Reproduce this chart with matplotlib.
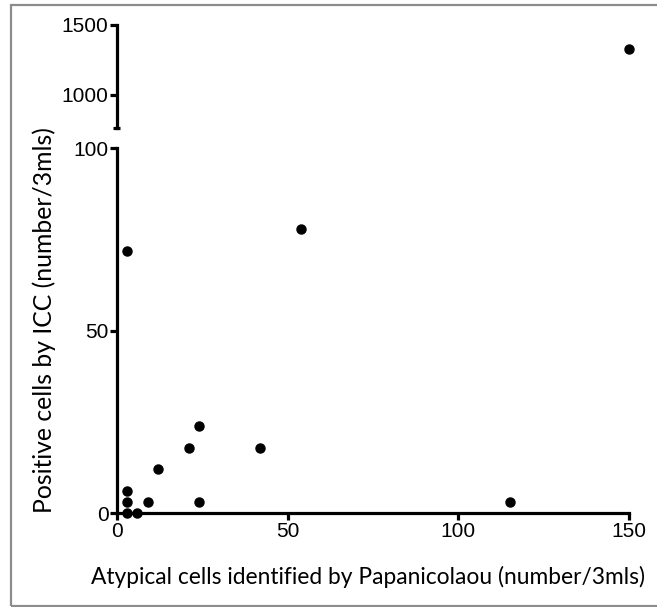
import matplotlib
matplotlib.use("Agg")
import matplotlib.pyplot as plt
from matplotlib.patches import Rectangle
import numpy as np

# Data
papanicolaou = [3, 3, 3, 3, 6, 9, 12, 21, 24, 24, 42, 54, 115, 150]
icc_positive = [0, 3, 6, 72, 0, 3, 12, 18, 24, 3, 18, 78, 3, 1326]
x_ticks = [0, 50, 100, 150]
y_ticks_low = [0, 50, 100]
y_ticks_high = [1000, 1500]
x_label = "Atypical cells identified by Papanicolaou (number/3mls)"
y_label = "Positive cells by ICC (number/3mls)"

W, H = 657, 607
fig = plt.figure(figsize=(W / 100, H / 100), dpi=100)

def fx(px):
    return px / W

def fy(py):
    return 1 - py / H

x0, x1 = 116.9, 629.0
ax_lo = fig.add_axes([fx(x0), fy(513.3), fx(x1 - x0), (513.3 - 148.3) / H])
ax_hi = fig.add_axes([fx(x0), fy(128.2), fx(x1 - x0), (128.2 - 25.0) / H])

xs = np.array(papanicolaou)
ys = np.array(icc_positive)
lo = ys <= 100
hi = ys > 100

lw = 2.3
tick_fs = 15

for ax in (ax_lo, ax_hi):
    ax.set_xlim(0, 150)
    ax.patch.set_visible(False)
    for s in ("top", "right"):
        ax.spines[s].set_visible(False)
    ax.spines["left"].set_linewidth(lw)
    ax.spines["bottom"].set_linewidth(lw)
    ax.tick_params(width=lw, length=5, direction="out", pad=1, labelsize=tick_fs)

ax_lo.set_ylim(0, 100)
ax_lo.set_xticks(x_ticks)
ax_lo.set_yticks(y_ticks_low)
ax_lo.plot(xs[lo], ys[lo], "o", color="black", markersize=6.5, clip_on=False)

ax_hi.set_ylim(760, 1500)
ax_hi.spines["bottom"].set_visible(False)
ax_hi.set_xticks([])
ax_hi.set_yticks(y_ticks_high)
ax_hi.plot(xs[hi], ys[hi], "o", color="black", markersize=6.5, clip_on=False)
# small end cap at the bottom of the upper axis segment
ax_hi.plot([-1.0, 1.0], [760, 760], color="black", lw=lw, clip_on=False, solid_capstyle="butt")

for ax in (ax_lo, ax_hi):
    for lab in ax.get_xticklabels() + ax.get_yticklabels():
        lab.set_fontfamily(["Liberation Sans", "DejaVu Sans"])
        lab.set_fontsize(tick_fs)

lab_family = ["Lato", "DejaVu Sans"]
tx = fig.text(fx(368), fy(577), x_label, ha="center", va="center",
              family=lab_family, fontsize=15)
ty = fig.text(fx(44), fy(320), y_label, ha="center", va="center",
              rotation=90, family=lab_family, fontsize=15)

# scale label fonts to match measured widths
fig.canvas.draw()
r = fig.canvas.get_renderer()
wx = tx.get_window_extent(r).width
tx.set_fontsize(15 * 555 / wx)
hy = ty.get_window_extent(r).height
ty.set_fontsize(15 * 386 / hy)

# gray frame around the figure (right side runs off the image)
fig.patches.append(Rectangle((fx(11), fy(605.5)), fx(670 - 11), (605.5 - 5) / H,
                             transform=fig.transFigure, fill=False,
                             edgecolor="#8c8c8c", linewidth=1.6, clip_on=False))

fig.savefig("out.png", dpi=100)
